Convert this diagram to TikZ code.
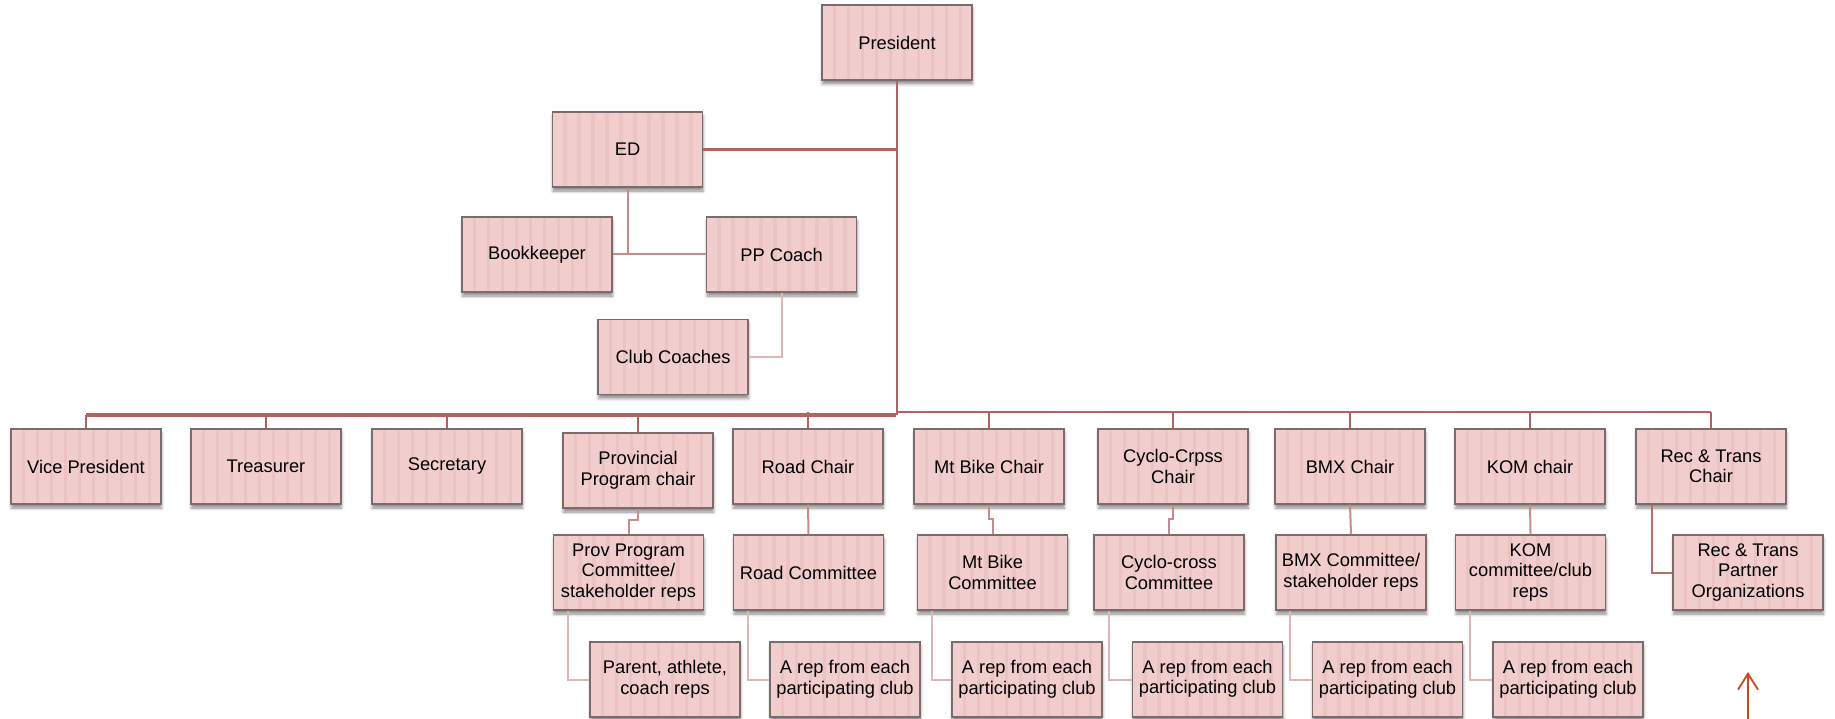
\documentclass[tikz,border=0pt]{standalone}
\usepackage{fontspec}
\setmainfont{Liberation Sans}
\usetikzlibrary{shadows,shadows.blur,arrows.meta}
\definecolor{boxfill}{HTML}{F2CDCD}
\definecolor{stripecol}{HTML}{ECC3C3}
\definecolor{boxline}{HTML}{7A6C6C}
\definecolor{mainline}{HTML}{B3635F}
\definecolor{recline}{HTML}{B86E6C}
\definecolor{midline}{HTML}{C68C8A}
\definecolor{lightline}{HTML}{DDB6B6}
\definecolor{arrowcol}{HTML}{C8471F}
\tikzset{
  orgbox/.style={draw=boxline, line width=1.1pt, fill=boxfill,
    minimum width=150pt, minimum height=75pt, inner sep=0pt, align=center,
    font=\fontsize{18.3}{20.5}\selectfont,
    blur shadow={shadow xshift=0.5pt, shadow yshift=-4pt, shadow blur radius=3pt, shadow opacity=45},
    path picture={\foreach \k in {1,...,10}{\fill[stripecol]
      ([xshift=\k*14pt-3.5pt]path picture bounding box.south west) rectangle
      ([xshift=\k*14pt]path picture bounding box.north west);}}},
  mainconn/.style={draw=mainline, line width=2.6pt},
  busthick/.style={draw=mainline, line width=4pt},
  stemconn/.style={draw=mainline, line width=2.2pt},
  recconn/.style={draw=recline, line width=2pt},
  midconn/.style={draw=midline, line width=2pt},
  lightconn/.style={draw=lightline, line width=2pt},
  upkarrow/.style={draw=arrowcol, line width=1.8pt, -{Straight Barb[length=16pt,width=20pt,line width=1.8pt]}}
}
\begin{document}
\begin{tikzpicture}[x=1pt,y=-1pt]
\useasboundingbox (0,0) rectangle (1835,719);
% top part
\node[orgbox] (pres) at (897,42.5) {President};
\node[orgbox] (ed) at (627.5,149.5) {ED};
\node[orgbox] (book) at (537,254.5) {Bookkeeper};
\node[orgbox] (pp) at (781.5,254.5) {PP Coach};
\node[orgbox] (club) at (673,357) {Club Coaches};
% level 1
\node[orgbox] (vp) at (86,466.5) {Vice President};
\node[orgbox] (tre) at (266,466.5) {Treasurer};
\node[orgbox] (sec) at (447,466.5) {Secretary};
\node[orgbox] (prov) at (638,470.5) {Provincial\\Program chair};
\node[orgbox] (road) at (808,466.5) {Road Chair};
\node[orgbox] (mtb) at (989,466.5) {Mt Bike Chair};
\node[orgbox] (cyc) at (1173,466.5) {Cyclo-Crpss\\Chair};
\node[orgbox] (bmx) at (1350,466.5) {BMX Chair};
\node[orgbox] (kom) at (1530,466.5) {KOM chair};
\node[orgbox] (rec) at (1711,466.5) {Rec \& Trans\\Chair};
% level 2
\node[orgbox] (ppc) at (628.5,572.5) {Prov Program\\Committee/\\stakeholder reps};
\node[orgbox] (rc) at (808.5,572.5) {Road Committee};
\node[orgbox] (mbc) at (992.5,572.5) {Mt Bike\\Committee};
\node[orgbox] (ccc) at (1169,572.5) {Cyclo-cross\\Committee};
\node[orgbox] (bmxc) at (1351,572.5) {BMX Committee/\\stakeholder reps};
\node[orgbox] (komc) at (1530.5,572.5) {KOM\\committee/club\\reps};
\node[orgbox] (recp) at (1748,572.5) {Rec \& Trans\\Partner\\Organizations};
% level 3
\node[orgbox] (par) at (665,679.5) {Parent, athlete,\\coach reps};
\node[orgbox] (rr) at (845,679.5) {A rep from each\\participating club};
\node[orgbox] (mbr) at (1027,679.5) {A rep from each\\participating club};
\node[orgbox] (cyr) at (1207.5,679.5) {\raisebox{15pt}{\begin{tabular}{@{}c@{}}A rep from each\\participating club\end{tabular}}};
\node[orgbox] (bmxr) at (1387.5,679.5) {A rep from each\\participating club};
\node[orgbox] (komr) at (1568,679.5) {A rep from each\\participating club};
% bus coordinates
\coordinate (busL) at (896,414.5);
\coordinate (busR) at (896,412);
% trunk and bus
\draw[mainconn] (pres.south) -- (pres.south |- busL);
\draw[busthick] (vp.north |- busL) -- (busL);
\draw[mainconn] (busR) -- (rec.north |- busR);
\foreach \n in {vp,tre,sec,prov}{\draw[stemconn] (\n.north) -- (\n.north |- busL);}
\foreach \n in {road,mtb,cyc,bmx,kom,rec}{\draw[stemconn] (\n.north) -- (\n.north |- busR);}
% ED branch
\draw[mainconn] (ed.east) -- (ed.east -| pres.south);
\draw[midconn] (ed.south) -- (ed.south |- book.east);
\draw[midconn] (book.east) -- (pp.west);
\draw[lightconn] (pp.south) |- (club.east);
% chair -> committee
\draw[midconn] (prov.south) -- ++(0,11) -| (ppc.north);
\draw[midconn] (road.south) -- (rc.north);
\draw[midconn] (mtb.south) -- ++(0,14) -| (mbc.north);
\draw[midconn] (cyc.south) -- ++(0,14) -| (ccc.north);
\draw[midconn] (bmx.south) -- (bmxc.north);
\draw[midconn] (kom.south) -- (komc.north);
\draw[recconn] ([xshift=-59pt]rec.south) |- (recp.west);
% committee -> reps
\draw[lightconn] ([xshift=-60.5pt]ppc.south) |- (par.west);
\draw[lightconn] ([xshift=-60.5pt]rc.south) |- (rr.west);
\draw[lightconn] ([xshift=-60.5pt]mbc.south) |- (mbr.west);
\draw[lightconn] ([xshift=-60pt]ccc.south) |- (cyr.west);
\draw[lightconn] ([xshift=-61pt]bmxc.south) |- (bmxr.west);
\draw[lightconn] ([xshift=-60.5pt]komc.south) |- (komr.west);
% arrow
\coordinate (arrowtail) at (1748,719);
\coordinate (arrowtip) at (1748,672);
\draw[upkarrow] (arrowtail) -- (arrowtip);
\end{tikzpicture}
\end{document}
